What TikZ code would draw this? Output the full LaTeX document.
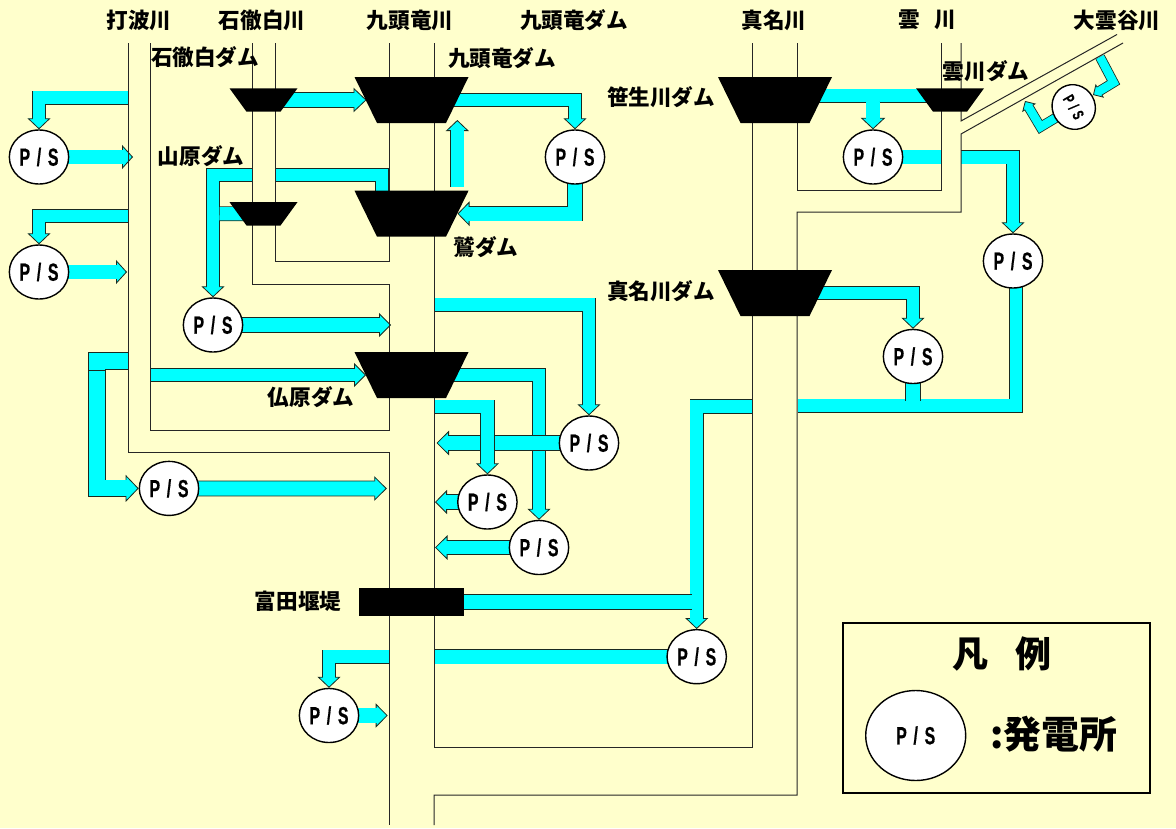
\documentclass[tikz,border=0pt]{standalone}
\usepackage{fontspec}
\usetikzlibrary{arrows.meta,calc,shapes.geometric}
\newfontfamily\jp{Noto Sans CJK JP}
\newfontfamily\psf[UprightFont={* Bold},FakeStretch=0.64,FakeBold=0.6]{Liberation Sans}
\definecolor{pagebg}{HTML}{FFFFCC}
\definecolor{flowc}{HTML}{00FFFF}
\definecolor{edgec}{HTML}{1A2A20}
\pgfdeclarelayer{flows}\pgfdeclarelayer{rivers}
\pgfsetlayers{flows,rivers,main}
\newcommand\pst{P\hspace{.27em}/\hspace{.27em}S}
% shaft width, head length, head width, path (all px)
\newcommand\flowdraw[4]{%
  \pgfmathsetmacro\fo{(#1+0.8)*0.75}\pgfmathsetmacro\fin{(#1-0.8)*0.75}%
  \pgfmathsetmacro\hl{#2*0.75}\pgfmathsetmacro\hw{#3*0.75}\pgfmathsetmacro\hs{(#2-1.5)*0.75}%
  \draw[draw=edgec,line width=\fo pt,-{Triangle[length=\hl pt,width=\hw pt,fill=flowc,line width=0.6pt]}] #4;
  \draw[draw=flowc,line width=\fin pt,shorten >=\hs pt] #4;
}
\newcommand\fa[2][13.4]{\flowdraw{#1}{11}{23}{#2}}
\newcommand\fb[2][13.4]{%
  \pgfmathsetmacro\fo{(#1+0.8)*0.75}\pgfmathsetmacro\fin{(#1-0.8)*0.75}%
  \draw[draw=edgec,line width=\fo pt] #2;
  \draw[draw=flowc,line width=\fin pt] #2;
}
% name, x, y, top width, height, inset (px)
\newcommand\damshape[6]{%
  \pgfmathsetmacro\dw{#4*0.75}\pgfmathsetmacro\dh{#5*0.75}%
  \node[inner sep=0pt,outer sep=0pt,minimum width=\dw pt,minimum height=\dh pt] (#1) at (#2,#3) {};
  \fill[black] (#1.north west) -- (#1.north east) -- ($(#1.south east)+(-#6,0)$) -- ($(#1.south west)+(#6,0)$) -- cycle;
}
\tikzset{
  psnode/.style={ellipse,draw=black,fill=white,line width=1.05pt,inner sep=0pt,minimum width=44.5pt,minimum height=40.5pt,font=\psf\fontsize{18.6}{18.6}\selectfont},
  lab/.style={font=\jp\bfseries\fontsize{16.2}{16.2}\selectfont,inner sep=0pt},
  river/.style={draw=black!85,line width=0.75pt}
}
\begin{document}
\begin{tikzpicture}[x=0.75pt,y=-0.75pt]
\useasboundingbox (0,0) rectangle (1176,828);
% dams
\damshape{ishi}{263.5}{100}{68}{23.4}{17}
\damshape{kuz}{411.5}{100}{114}{46}{22.5}
\damshape{yama}{263.5}{213.8}{68}{23.4}{17}
\damshape{sagi}{411.5}{213.7}{114}{46}{22.5}
\damshape{hoto}{411.5}{375}{114}{46}{22.5}
\damshape{sasou}{775}{100}{114}{46}{22.5}
\damshape{kumo}{950}{100}{68}{23.4}{17}
\damshape{mana}{775}{293}{114}{46}{22.5}
\node[fill=black,inner sep=0pt,minimum width=78.75pt,minimum height=20.5pt] (weir) at (411.5,602) {};
% power stations
\node[psnode] (ps1) at (39,157) {\pst};
\node[psnode] (ps2) at (39,272) {\pst};
\node[psnode] (ps3) at (575,157) {\pst};
\node[psnode] (ps5) at (213,325) {\pst};
\node[psnode] (ps6) at (589,443) {\pst};
\node[psnode] (ps7) at (487.4,502) {\pst};
\node[psnode] (ps8) at (539,547.5) {\pst};
\node[psnode] (ps9) at (169,488.4) {\pst};
\node[psnode] (ps10) at (696.7,656.7) {\pst};
\node[psnode] (ps11) at (329,715.5) {\pst};
\node[psnode] (ps13) at (913,356.5) {\pst};
\node[psnode] (ps14) at (1013,261) {\pst};
\node[psnode] (ps15) at (873,157) {\pst};
\node[psnode,rotate=-60,minimum width=34pt,minimum height=32pt,font=\psf\fontsize{12}{12}\selectfont] (psr) at (1073.7,107) {\pst};
% free ends
\coordinate (e1) at (128,97.7); \coordinate (t1) at (133,157);
\coordinate (e2) at (128,216); \coordinate (t2) at (127,272);
\coordinate (t5) at (366.5,100);
\coordinate (e7) at (457.3,187); \coordinate (t7) at (457.3,120);
\coordinate (t8) at (457.5,213.7);
\coordinate (e9) at (382,192); \coordinate (m9a) at (275,175); \coordinate (m9b) at (252,175);
\coordinate (e10) at (219.5,213.7); \coordinate (t11) at (391,325);
\coordinate (e12) at (434,304.7); \coordinate (e13) at (150.7,375); \coordinate (t13) at (366,375);
\coordinate (t15) at (436.5,443); \coordinate (e16) at (434,406.7);
\coordinate (t17) at (435,502); \coordinate (t18) at (435,547.5);
\coordinate (e19) at (128,361); \coordinate (b19) at (97,361);
\coordinate (t20) at (386.8,488.5);
\coordinate (e21) at (752.5,406.4); \coordinate (e22) at (691.5,602);
\coordinate (t23) at (434,656.7); \coordinate (e24) at (389,656.7);
\coordinate (t25) at (387.7,715.5);
\coordinate (e27) at (798,405.6); \coordinate (b27) at (1016,405.6); \coordinate (u27) at (1016,270);
\coordinate (e28) at (913,400.5);
\coordinate (e29) at (961,157.3); \coordinate (t30) at (941,157);
\coordinate (e31) at (812,95.7); \coordinate (u31) at (950,95.7);
\coordinate (e32) at (873,101.5);
\coordinate (e33) at (1100,57); \coordinate (b33) at (1113.5,82.5); \coordinate (t33) at (1093,95);
\coordinate (b34) at (1040.5,127); \coordinate (t34) at (1025,101);
\begin{pgfonlayer}{flows}
\fill[pagebg] (0,0) rectangle (1176,828);
\fa{(e1) -| (ps1.north)}
\flowdraw{14}{11}{24}{(ps1.center) -- (t1)}
\fa{(e2) -| (ps2.north)}
\flowdraw{14}{11}{24}{(ps2.center) -- (t2)}
\flowdraw{14.5}{13}{24.5}{(ishi.center) -- (t5)}
\fa{(kuz.center) -| (ps3.north)}
\fa{(e7) -- (t7)}
\flowdraw{14.5}{12}{24.5}{(ps3.center) |- (t8)}
\fb{(e9) |- (m9a)}
\fa{(m9b) -| (ps5.north)}
\fb[14]{(e10) -- (yama.center)}
\flowdraw{14.5}{12}{24}{(ps5.center) -- (t11)}
\fa{(e12) -| (ps6.north)}
\flowdraw{13.4}{12}{24}{(e13) -- (t13)}
\fa{(hoto.center) -| (ps8.north)}
\flowdraw{14.5}{12.5}{24.5}{(ps6.center) -- (t15)}
\fa{(e16) -| (ps7.north)}
\flowdraw{14.5}{12}{24}{(ps7.center) -- (t17)}
\flowdraw{14.5}{12.5}{24.5}{(ps8.center) -- (t18)}
\flowdraw{16.8}{13}{27}{(e19) -- (b19) |- (ps9.west)}
\draw[draw=edgec,line width=0.6pt] (89,370) -- (105,370);
\flowdraw{15}{12.5}{24.5}{(ps9.center) -- (t20)}
\fa{(e21) -| (ps10.north)}
\fb[15]{(weir.center) -- (e22)}
\fb[14.7]{(ps10.center) -- (t23)}
\fa{(e24) -| (ps11.north)}
\flowdraw{15}{12}{24}{(ps11.center) -- (t25)}
\fa{(mana.center) -| (ps13.north)}
\fb{(e27) -- (b27) -- (u27)}
\fb[14.6]{(ps13.center) -- (e28)}
\fa{(e29) -| (ps14.north)}
\fb[14]{(ps15.center) -- (t30)}
\fb{(e31) -- (u31)}
\flowdraw{14}{11.5}{24.5}{(e32) -- (ps15.north)}
\flowdraw{9.3}{8}{16}{(e33) -- (b33) -- (t33)}
\flowdraw{9.3}{8}{16}{(psr.center) -- (b34) -- (t34)}
\end{pgfonlayer}
\begin{pgfonlayer}{rivers}
\draw[river] (128,43) -- (128,452) -- (389,452) -- (389,825);
\draw[river] (150,43) -- (150,430) -- (389,430) -- (389,284) -- (252,284) -- (252,43);
\draw[river] (275,43) -- (275,261) -- (389,261) -- (389,43);
\draw[river] (434,43) -- (434,747) -- (752,747) -- (752,43);
\draw[river] (434,825) -- (434,795) -- (797,795) -- (797,212) -- (961,212) -- (961,134) -- (1123,43);
\draw[river] (797,43) -- (797,190) -- (941,190) -- (941,43);
\draw[river] (961,43) -- (961,121) -- (1117,34.5);
\end{pgfonlayer}
% labels
\node[lab] (l1) at (139,20) {打波川};
\node[lab] (l2) at (262,20) {石徹白川};
\node[lab] (l3) at (410,20) {九頭竜川};
\node[lab] (l4) at (574,20) {九頭竜ダム};
\node[lab] (l5) at (774,20) {真名川};
\node[lab] (l6) at (927,20) {雲\hspace{11pt}川};
\node[lab] (l7) at (1117,20) {大雲谷川};
\node[lab] (l8) at (205,57.5) {石徹白ダム};
\node[lab] (l9) at (502,58) {九頭竜ダム};
\node[lab] (l10) at (661,97) {笹生川ダム};
\node[lab] (l11) at (986,71) {雲川ダム};
\node[lab] (l12) at (201,156) {山原ダム};
\node[lab] (l13) at (486,247) {鷲ダム};
\node[lab] (l14) at (661,291) {真名川ダム};
\node[lab] (l15) at (311,397) {仏原ダム};
\node[lab] (l16) at (298,601) {富田堰堤};
% legend
\node[draw=black,line width=1.1pt,minimum width=230pt,minimum height=127.5pt,inner sep=0pt] (legend) at (996.5,708) {};
\node[lab,font=\jp\bfseries\fontsize{27}{27}\selectfont] (lt) at (1002,654) {凡\hspace{20pt}例};
\node[psnode,minimum width=75pt,minimum height=67.5pt] (lps) at (915.7,735.5) {\pst};
\node[lab,font=\jp\bfseries\fontsize{28.4}{28.4}\selectfont,anchor=west] (ltx) at (990,734) {:発電所};
\end{tikzpicture}
\end{document}
